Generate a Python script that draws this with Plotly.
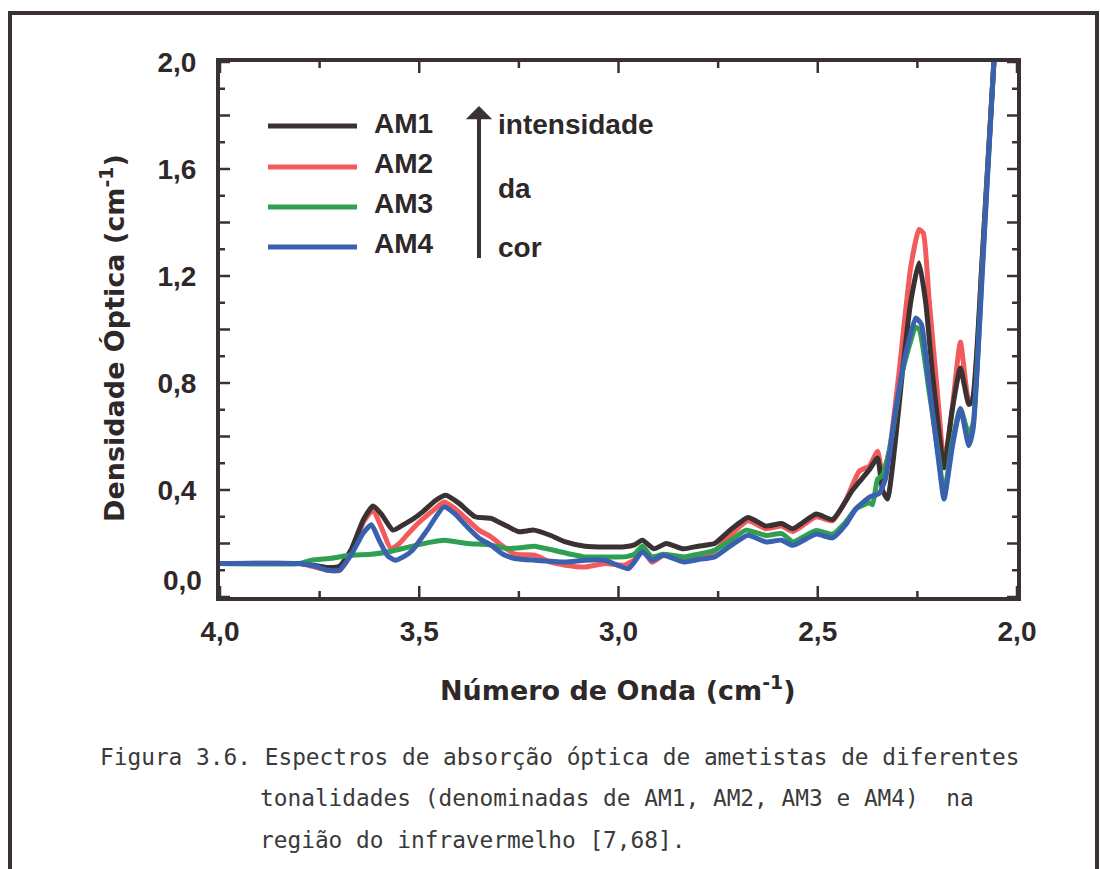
import numpy as np
import plotly.graph_objects as go

# ---------------- data ----------------
SERIES_NAMES = ["AM1", "AM2", "AM3", "AM4"]
SERIES_COLORS = ["#3a3132", "#f25a5c", "#2f9f52", "#3a60b0"]

AM1_X = [4.00, 3.90, 3.80, 3.77, 3.73, 3.70, 3.67, 3.64, 3.616, 3.595, 3.566, 3.54, 3.517, 3.49, 3.46, 3.433,
         3.40, 3.36, 3.32, 3.28, 3.25, 3.212, 3.17, 3.133, 3.084, 3.03, 2.985, 2.96, 2.94, 2.911, 2.88, 2.837,
         2.80, 2.759, 2.72, 2.675, 2.63, 2.591, 2.5625, 2.504, 2.4625, 2.4125, 2.37, 2.35, 2.3375, 2.325,
         2.304, 2.2875, 2.267, 2.246, 2.229, 2.2125, 2.196, 2.183, 2.1625, 2.142, 2.121, 2.1125, 2.0875, 2.058, 2.05]
AM1_Y = [0.125, 0.125, 0.125, 0.12, 0.11, 0.115, 0.18, 0.29, 0.34, 0.31, 0.25, 0.27, 0.29, 0.32, 0.36, 0.38,
         0.35, 0.30, 0.294, 0.265, 0.244, 0.25, 0.23, 0.206, 0.19, 0.187, 0.188, 0.195, 0.212, 0.18, 0.20, 0.18,
         0.19, 0.20, 0.25, 0.2975, 0.265, 0.275, 0.255, 0.31, 0.29, 0.40, 0.477, 0.52, 0.40, 0.366,
         0.60, 0.84, 1.10, 1.25, 1.10, 0.84, 0.62, 0.483, 0.70, 0.856, 0.72, 0.73, 1.26, 2.0, 2.15]

AM2_X = [4.00, 3.80, 3.77, 3.73, 3.70, 3.67, 3.64, 3.616, 3.595, 3.571, 3.55, 3.532, 3.50, 3.46, 3.438, 3.41,
         3.38, 3.35, 3.32, 3.29, 3.26, 3.21, 3.17, 3.133, 3.084, 3.034, 2.985, 2.96, 2.94, 2.916, 2.887, 2.837,
         2.80, 2.76, 2.72, 2.675, 2.63, 2.591, 2.5625, 2.504, 2.4625, 2.43, 2.396, 2.37, 2.35, 2.3375, 2.32,
         2.296, 2.267, 2.246, 2.235, 2.221, 2.196, 2.183, 2.1625, 2.142, 2.121, 2.11, 2.0875, 2.058, 2.05]
AM2_Y = [0.125, 0.125, 0.115, 0.10, 0.10, 0.17, 0.28, 0.325, 0.26, 0.18, 0.20, 0.23, 0.28, 0.33, 0.355, 0.33,
         0.29, 0.25, 0.225, 0.19, 0.16, 0.156, 0.13, 0.119, 0.112, 0.125, 0.119, 0.14, 0.175, 0.13, 0.156, 0.1375,
         0.15, 0.17, 0.23, 0.285, 0.255, 0.265, 0.245, 0.30, 0.285, 0.36, 0.47, 0.49, 0.545, 0.46, 0.55,
         0.84, 1.23, 1.374, 1.36, 1.12, 0.70, 0.497, 0.704, 0.953, 0.732, 0.75, 1.26, 2.0, 2.15]

AM3_X = [4.00, 3.80, 3.773, 3.72, 3.675, 3.62, 3.576, 3.517, 3.47, 3.438, 3.40, 3.379, 3.32, 3.28, 3.24, 3.212,
         3.163, 3.12, 3.084, 3.03, 2.985, 2.96, 2.94, 2.916, 2.887, 2.837, 2.80, 2.759, 2.72, 2.68, 2.63, 2.59,
         2.5625, 2.504, 2.4625, 2.43, 2.404, 2.37, 2.3625, 2.35, 2.3375, 2.32, 2.2875, 2.254, 2.245, 2.221,
         2.196, 2.183, 2.1625, 2.142, 2.121, 2.11, 2.0875, 2.058, 2.05]
AM3_Y = [0.125, 0.125, 0.137, 0.145, 0.156, 0.16, 0.169, 0.19, 0.205, 0.212, 0.205, 0.20, 0.194, 0.181, 0.185, 0.19,
         0.175, 0.16, 0.15, 0.15, 0.15, 0.16, 0.19, 0.15, 0.16, 0.15, 0.16, 0.175, 0.21, 0.25, 0.23, 0.237,
         0.207, 0.249, 0.235, 0.28, 0.33, 0.352, 0.345, 0.44, 0.456, 0.55, 0.842, 1.008, 1.0, 0.773,
         0.52, 0.387, 0.58, 0.704, 0.608, 0.65, 1.22, 2.0, 2.15]

AM4_X = [4.00, 3.80, 3.76, 3.73, 3.70, 3.67, 3.64, 3.62, 3.60, 3.58, 3.56, 3.54, 3.517, 3.48, 3.438, 3.41,
         3.38, 3.35, 3.32, 3.29, 3.26, 3.21, 3.133, 3.084, 3.034, 2.975, 2.94, 2.916, 2.887, 2.837, 2.80, 2.759,
         2.72, 2.675, 2.63, 2.591, 2.5625, 2.504, 2.4625, 2.43, 2.404, 2.37, 2.346, 2.33, 2.304, 2.279, 2.254,
         2.24, 2.221, 2.196, 2.183, 2.1625, 2.142, 2.121, 2.11, 2.0875, 2.058, 2.05]
AM4_Y = [0.125, 0.125, 0.115, 0.10, 0.10, 0.16, 0.24, 0.27, 0.21, 0.155, 0.1375, 0.15, 0.175, 0.25, 0.337, 0.31,
         0.2625, 0.22, 0.194, 0.16, 0.144, 0.1375, 0.131, 0.1375, 0.1375, 0.106, 0.169, 0.1375, 0.156, 0.131, 0.14, 0.15,
         0.19, 0.231, 0.206, 0.2125, 0.193, 0.235, 0.221, 0.27, 0.33, 0.373, 0.387, 0.442, 0.704, 0.912, 1.043,
         1.02, 0.80, 0.50, 0.366, 0.56, 0.704, 0.566, 0.63, 1.20, 2.0, 2.15]

X_TICK_VALS = [4.0, 3.5, 3.0, 2.5, 2.0]
X_TICK_LABELS = ["4,0", "3,5", "3,0", "2,5", "2,0"]
Y_TICK_VALS = [0.0, 0.2, 0.4, 0.6, 0.8, 1.0, 1.2, 1.4, 1.6, 1.8, 2.0]
Y_TICK_LABELS = ["0,0", "", "0,4", "", "0,8", "", "1,2", "", "1,6", "", "2,0"]
X_MINOR_STEP = 0.25
Y_MINOR_STEP = 0.1

X_TITLE = "Número de Onda (cm<sup>-1</sup>)"
Y_TITLE = "Densidade Óptica (cm<sup>-1</sup>)"
ARROW_WORDS = ["intensidade", "da", "cor"]
CAPTION = [
    "Figura 3.6. Espectros de absorção óptica de ametistas de diferentes",
    "tonalidades (denominadas de AM1, AM2, AM3 e AM4)  na",
    "região do infravermelho [7,68].",
]

# ---------------- layout geometry (pixels) ----------------
W, H = 1100, 869
L, R, T, B = 220, 1017, 62, 597
PW, PH = R - L, B - T
INK = "#2e2829"
AXC = "#3a3132"


def px(xp):
    return (xp - L) / PW


def py(yp):
    return (B - yp) / PH


fig = go.Figure()

series = [
    (AM2_X, AM2_Y, 1),
    (AM1_X, AM1_Y, 0),
    (AM3_X, AM3_Y, 2),
    (AM4_X, AM4_Y, 3),
]
for xs, ys, i in series:
    fig.add_trace(go.Scatter(
        x=xs, y=ys, mode="lines", name=SERIES_NAMES[i],
        line=dict(color=SERIES_COLORS[i], width=5, shape="spline", smoothing=0.5),
        showlegend=False, hoverinfo="skip",
    ))

tickfont = dict(family="Liberation Sans, Arial, sans-serif", size=28, color=INK, weight="bold")

fig.update_layout(
    xaxis=dict(
        range=[4.0, 2.0], tickvals=X_TICK_VALS, ticktext=X_TICK_LABELS,
        ticks="", showline=True, linewidth=4, linecolor=AXC, mirror=True,
        showgrid=False, zeroline=False, tickfont=tickfont, ticklabelstandoff=6,
    ),
    yaxis=dict(
        range=[0.0, 2.0], tickvals=Y_TICK_VALS, ticktext=[""] + Y_TICK_LABELS[1:],
        ticks="", showline=True, linewidth=4, linecolor=AXC, mirror=True,
        showgrid=False, zeroline=False, tickfont=tickfont, ticklabelstandoff=14,
    ),
)

shapes = []
annotations = []

# outer frame
shapes.append(dict(type="rect", xref="paper", yref="paper",
                   x0=px(10), x1=px(1097), y0=py(885), y1=py(13),
                   line=dict(color=AXC, width=4)))

# tick marks (inside, on all four sides), positioned through the axis scales
tick_line = dict(color=AXC, width=2.5)
x_minor = np.arange(min(X_TICK_VALS), max(X_TICK_VALS) + 1e-9, X_MINOR_STEP)
for v in x_minor:
    major = any(abs(v - m) < 1e-6 for m in X_TICK_VALS)
    ln = 11 if major else 6
    for anchor, y0, y1 in [(0, 0, ln), (1, -ln, 0)]:
        shapes.append(dict(type="line", xref="x", yref="paper", ysizemode="pixel", yanchor=anchor,
                           x0=float(v), x1=float(v), y0=y0, y1=y1, line=tick_line))
y_minor = np.arange(min(Y_TICK_VALS), max(Y_TICK_VALS) + 1e-9, Y_MINOR_STEP)
for v in y_minor:
    major = any(abs(v - m) < 1e-6 for m in Y_TICK_VALS)
    ln = 10 if major else 5
    for anchor, x0, x1 in [(0, 0, ln), (1, -ln, 0)]:
        shapes.append(dict(type="line", xref="paper", yref="y", xsizemode="pixel", xanchor=anchor,
                           x0=x0, x1=x1, y0=float(v), y1=float(v), line=tick_line))

# "0,0" tick label sits a bit above the axis in the reference
annotations.append(dict(text=Y_TICK_LABELS[0], xref="paper", yref="y", x=0, y=0,
                        xanchor="right", yanchor="middle", xshift=-16, yshift=17,
                        showarrow=False, font=tickfont))

# legend
leg_rows = [126, 167, 207, 247]
for i, name in enumerate(SERIES_NAMES):
    yy = py(leg_rows[i])
    shapes.append(dict(type="line", xref="paper", yref="paper",
                       x0=px(268), x1=px(357), y0=yy, y1=yy,
                       line=dict(color=SERIES_COLORS[i], width=5)))
    annotations.append(dict(text=name, xref="paper", yref="paper", x=px(372), y=py(leg_rows[i] - 3),
                            xanchor="left", yanchor="middle", showarrow=False,
                            font=dict(family="Liberation Sans, Arial, sans-serif", size=28,
                                      color=INK, weight="bold")))

# arrow + words
annotations.append(dict(text=" ", xref="paper", yref="paper", x=px(479), y=py(106),
                        ax=0, ay=162, showarrow=True, arrowhead=1, arrowsize=1.1,
                        arrowwidth=4, arrowcolor=AXC))
for word, yp in zip(ARROW_WORDS, [125, 188, 247]):
    annotations.append(dict(text=word, xref="paper", yref="paper", x=px(496), y=py(yp),
                            xanchor="left", yanchor="middle", showarrow=False,
                            font=dict(family="Liberation Sans, Arial, sans-serif", size=28,
                                      color=INK, weight="bold")))

# axis titles
title_font = dict(family="DejaVu Sans, sans-serif", size=27, color=INK, weight="bold")
annotations.append(dict(text=X_TITLE, xref="paper", yref="paper", x=px(618), y=py(688),
                        xanchor="center", yanchor="middle", showarrow=False, font=title_font))
annotations.append(dict(text=Y_TITLE, xref="paper", yref="paper", x=px(112), y=py(338),
                        xanchor="center", yanchor="middle", showarrow=False, textangle=-90,
                        font=title_font))

# caption
cap_font = dict(family="DejaVu Sans Mono, monospace", size=22.8, color="#3a3a3a")
for line, (xp, yp) in zip(CAPTION, [(98, 757), (258, 798), (258, 840)]):
    annotations.append(dict(text=line, xref="paper", yref="paper", x=px(xp), y=py(yp),
                            xanchor="left", yanchor="middle", showarrow=False, font=cap_font))

fig.update_layout(
    width=W, height=H,
    margin=dict(l=L, r=W - R, t=T, b=H - B, pad=0),
    paper_bgcolor="white", plot_bgcolor="white",
    shapes=shapes, annotations=annotations,
    showlegend=False,
)

fig.write_html("out.html")
